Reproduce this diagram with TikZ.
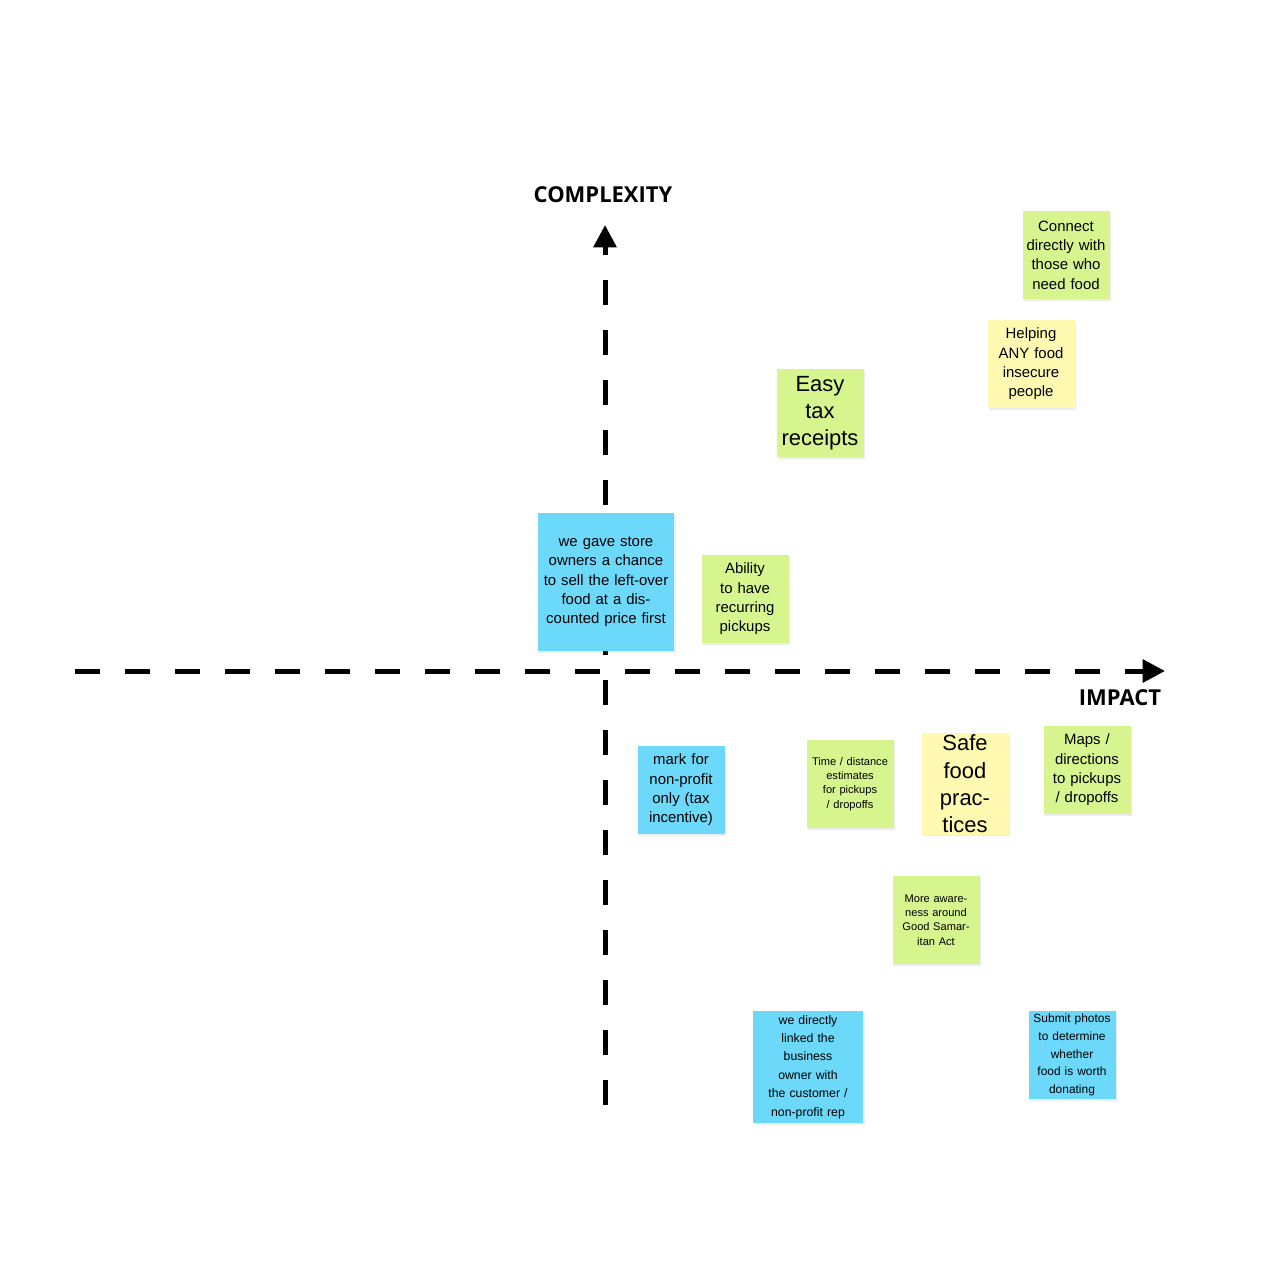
\documentclass[tikz,border=0pt]{standalone}
\usepackage{fontspec}
\setmainfont{Liberation Sans}
\newfontfamily\labelfont{Open Sans}
\usetikzlibrary{arrows.meta,shadows}

\definecolor{notegreen}{HTML}{D6F58F}
\definecolor{noteyellow}{HTML}{FFF9B1}
\definecolor{noteblue}{HTML}{6CD8FA}

\tikzset{
    note/.style={minimum width=1.74cm, minimum height=1.76cm, inner sep=1pt,
                 align=center, text width=1.6cm, font=\fontsize{8.5}{11}\selectfont,
                 drop shadow={shadow xshift=1pt, shadow yshift=-1pt, opacity=.15}},
    green/.style={note, fill=notegreen},
    yellow/.style={note, fill=noteyellow},
    blue/.style={note, fill=noteblue},
    small/.style={font=\fontsize{6.3}{8.1}\selectfont},
    big/.style={font=\fontsize{12.5}{15.5}\selectfont},
    axis/.style={line width=1mm, dash pattern=on 0.5cm off 0.5cm,
                 -{Triangle[length=0.45cm,width=0.45cm]}},
    axislabel/.style={font=\labelfont\bfseries\fontsize{12.5}{14}\selectfont}
}

\begin{document}
\begin{tikzpicture}[x=0.02cm,y=-0.02cm]
    \useasboundingbox (0,0) rectangle (1274,1274);
    % axes
    \coordinate (xstart) at (75,671);
    \coordinate (xend) at (1165,671);
    \coordinate (ystart) at (605,1105);
    \coordinate (yend) at (605,225);
    \draw [axis] (xstart) -- (xend);
    \draw [axis] (ystart) -- (yend);
    \node [axislabel] (complexity) at (603,195) {COMPLEXITY};
    \node [axislabel] (impact) at (1120,698) {IMPACT};
    % notes above
    \node [green] (connect) at (1066,255) {Connect directly with those who need food};
    \node [yellow] (helping) at (1031,364) {Helping ANY food insecure people};
    \node [green, big] (tax) at (820,413) {Easy tax receipts};
    \node [blue, minimum width=2.74cm, minimum height=2.76cm, text width=2.5cm]
          (sell) at (606,582) {we gave store owners a chance to sell the left-over food at a discounted price first};
    \node [green] (recurring) at (745,599) {Ability to have recurring pickups};
    % notes below
    \node [blue] (nonprofit) at (681,790) {mark for non-profit only (tax incentive)};
    \node [green, small] (distance) at (850,784) {Time / distance estimates for pickups / dropoffs};
    \node [yellow, big] (safe) at (965,784) {Safe food practices};
    \node [green] (maps) at (1087,770) {Maps / directions to pickups / dropoffs};
    \node [green, small] (awareness) at (936,920) {More awareness around Good Samaritan Act};
    \node [blue, small, font=\fontsize{7}{10.5}\selectfont, minimum width=2.2cm, minimum height=2.24cm, text width=1.9cm]
          (linked) at (808,1067) {we directly linked the business owner with the customer / non-profit rep};
    \node [blue, small, font=\fontsize{6.8}{10}\selectfont] (photos) at (1072,1055) {Submit photos to determine whether food is worth donating};
\end{tikzpicture}
\end{document}
